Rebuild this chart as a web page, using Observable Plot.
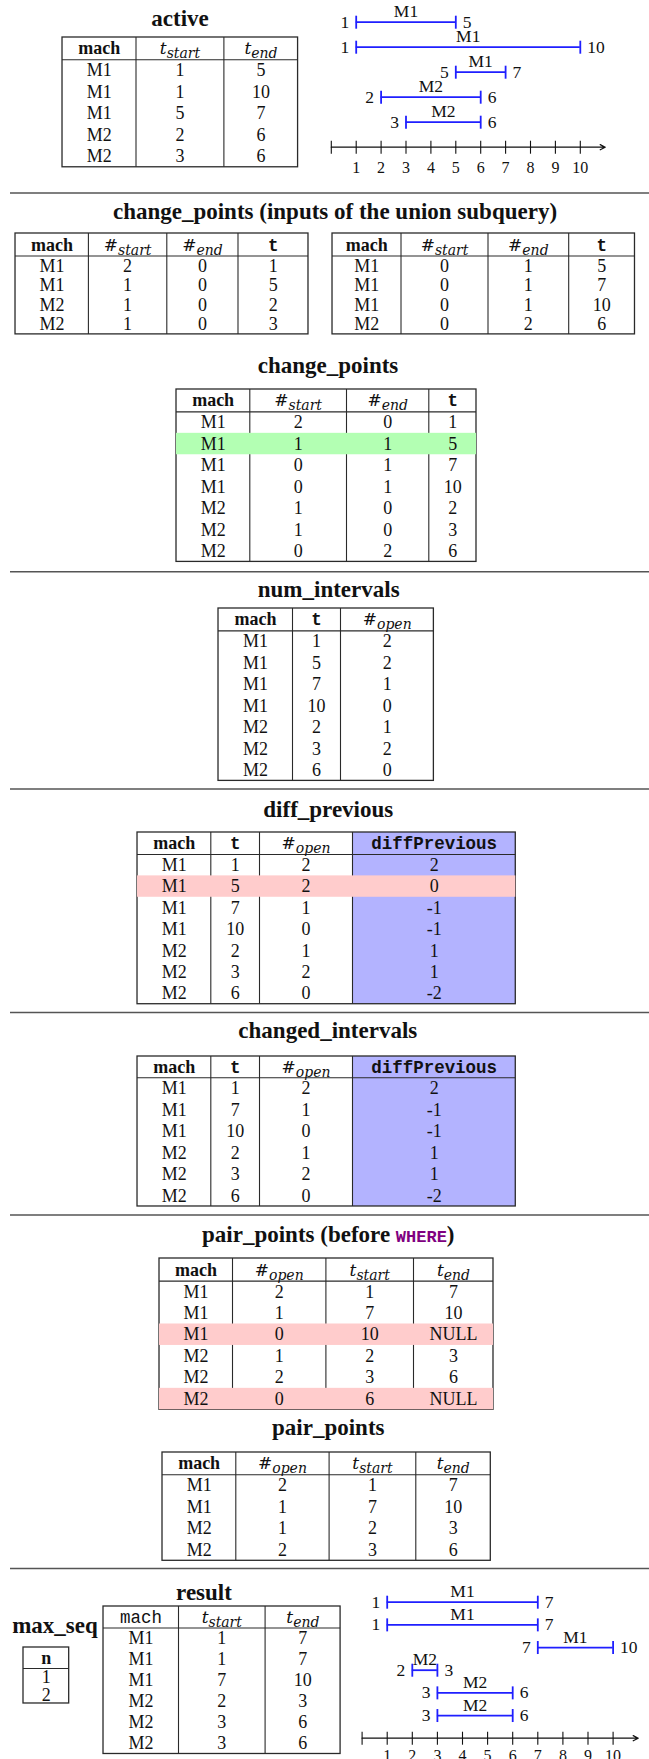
<!DOCTYPE html>
<html><head><meta charset="utf-8">
<script src="https://cdn.jsdelivr.net/npm/d3@7"></script>
<script src="https://cdn.jsdelivr.net/npm/@observablehq/plot@0.6"></script>
<style>
html,body{margin:0;padding:0;background:#fff;}
#page{position:relative;width:649px;height:1759px;overflow:hidden;background:#fff;}
.abs{position:absolute;}
</style></head><body><div id="page"></div>
<script>
// ---------------- DATA ----------------
const activeMach = ["M1","M1","M1","M2","M2"];
const activeStart = [1,1,5,2,3];
const activeEnd = [5,10,7,6,6];

const startPtsMach = ["M1","M1","M2","M2"];
const startPtsNStart = [2,1,1,1];
const startPtsNEnd = [0,0,0,0];
const startPtsT = [1,5,2,3];

const endPtsMach = ["M1","M1","M1","M2"];
const endPtsNStart = [0,0,0,0];
const endPtsNEnd = [1,1,1,2];
const endPtsT = [5,7,10,6];

const cpMach = ["M1","M1","M1","M1","M2","M2","M2"];
const cpNStart = [2,1,0,0,1,1,0];
const cpNEnd = [0,1,1,1,0,0,2];
const cpT = [1,5,7,10,2,3,6];

const niMach = ["M1","M1","M1","M1","M2","M2","M2"];
const niT = [1,5,7,10,2,3,6];
const niOpen = [2,2,1,0,1,2,0];

const dpMach = ["M1","M1","M1","M1","M2","M2","M2"];
const dpT = [1,5,7,10,2,3,6];
const dpOpen = [2,2,1,0,1,2,0];
const dpDiff = [2,0,-1,-1,1,1,-2];

const ciMach = ["M1","M1","M1","M2","M2","M2"];
const ciT = [1,7,10,2,3,6];
const ciOpen = [2,1,0,1,2,0];
const ciDiff = [2,-1,-1,1,1,-2];

const ppAllMach = ["M1","M1","M1","M2","M2","M2"];
const ppAllOpen = [2,1,0,1,2,0];
const ppAllStart = [1,7,10,2,3,6];
const ppAllEnd = [7,10,"NULL",3,6,"NULL"];

const ppMach = ["M1","M1","M2","M2"];
const ppOpen = [2,1,1,2];
const ppStart = [1,7,2,3];
const ppEnd = [7,10,3,6];

const maxSeqN = [1,2];

const resMach = ["M1","M1","M1","M2","M2","M2"];
const resStart = [1,1,7,2,3,3];
const resEnd = [7,7,10,3,6,6];

const axisTicks = [0,1,2,3,4,5,6,7,8,9,10];
const axisSpan = [{from: 0, to: 11}];

// ---------------- STYLE ----------------
const FONT = "'Liberation Serif','Times New Roman',serif";
const MONO = "'Liberation Mono','Courier New',monospace";
const MATH = "'DejaVu Serif',serif";
const BODY = 18, TITLE = 23, CHART = 17.5, TICK = 16;
const LINE = "#2a2a2a", LW = 1.1;
const GREEN = "#b3ffb3", RED = "#ffcccc", BLUE = "#b3b3ff", IVL = "#1f1fff", PURPLE = "#800080";

const page = document.getElementById("page");
const NS = "http://www.w3.org/2000/svg";

function place(node, left, top) {
  const div = document.createElement("div");
  div.className = "abs";
  div.style.left = left + "px";
  div.style.top = top + "px";
  div.appendChild(node);
  page.appendChild(div);
}

// header labels: "§kind|main|sub"
function styleHeaders(svg) {
  svg.querySelectorAll("text").forEach(el => {
    const s = el.textContent;
    if (!s.startsWith("§")) return;
    const [kind, main, sub] = s.slice(1).split("|");
    el.textContent = "";
    const add = (txt, attrs) => {
      const t = document.createElementNS(NS, "tspan");
      for (const k in attrs) t.setAttribute(k, attrs[k]);
      t.textContent = txt; el.appendChild(t); return t;
    };
    if (kind === "b") add(main, {"font-family": FONT, "font-weight": "bold"});
    else if (kind === "tt") add(main, {"font-family": MONO, "font-weight": "bold", "font-size": 17.5});
    else if (kind === "ttn") add(main, {"font-family": MONO, "font-size": 17.5});
    else if (kind === "m") {
      add(main, {"font-family": MATH, "font-style": main === "#" ? "normal" : "italic", "font-size": 17});
      add(sub, {"font-family": MATH, "font-style": "italic", "font-size": 14, "dy": 4});
    }
  });
}

function drawTable(t) {
  const m = 2;
  const cols = t.cols;
  const n = cols[0].length, c = cols.length;
  const x0 = t.bounds[0];
  const W = t.bounds[c] - x0;
  const H = t.headH + n * t.rowH;
  const xr = t.bounds.map(b => b - x0 + m);
  const yr = d3.range(n + 2).map(i => m + (i === 0 ? 0 : t.headH + (i - 1) * t.rowH));
  const cells = [];
  for (let r = 0; r < n; r++) for (let k = 0; k < c; k++) cells.push({r, k, v: String(cols[k][r])});
  const marks = [];
  if (t.colFill != null) marks.push(Plot.rect([t.colFill], {x1: d => d, x2: d => d + 1, y1: () => 0, y2: () => n + 1, fill: BLUE}));
  marks.push(Plot.ruleX(d3.range(1, c), {x: d => d, y1: () => 0, y2: () => n + 1, stroke: LINE, strokeWidth: LW}));
  marks.push(Plot.ruleY([1], {y: d => d, x1: () => 0, x2: () => c, stroke: LINE, strokeWidth: LW}));
  marks.push(Plot.rect([0], {x1: () => 0, x2: () => c, y1: () => 0, y2: () => n + 1, fill: "none", stroke: LINE, strokeWidth: LW + 0.2}));
  if (t.green) marks.push(Plot.rect(t.green, {x1: () => 0, x2: () => c, y1: d => d + 1, y2: d => d + 2, fill: GREEN}));
  if (t.red) marks.push(Plot.rect(t.red, {x1: () => 0, x2: () => c, y1: d => d + 1, y2: d => d + 2, fill: RED}));
  marks.push(Plot.text(cells, {x: d => d.k + 0.5, y: d => d.r + 1.5, text: "v", fontSize: BODY, fontFamily: FONT, fill: "#111"}));
  marks.push(Plot.text(t.headers, {x: (d, i) => i + 0.5, y: () => 0.5, text: d => d, fontSize: BODY, fontFamily: FONT, fill: "#111"}));
  const svg = Plot.plot({
    width: W + 2 * m, height: H + 2 * m, margin: 0,
    x: {type: "linear", domain: d3.range(c + 1), range: xr, axis: null},
    y: {type: "linear", domain: d3.range(n + 2), range: yr, axis: null},
    style: {background: "transparent", overflow: "visible"},
    marks
  });
  styleHeaders(svg);
  place(svg, x0 - m, t.top - m);
}

const vbar = {draw(ctx, size) { const r = Math.sqrt(size / Math.PI); ctx.moveTo(0, -r); ctx.lineTo(0, r); }};

function drawIntervals(c) {
  const data = c.mach.map((mm, i) => ({mach: mm, start: c.start[i], end: c.end[i], row: i + 1}));
  const axisRow = data.length + 1;
  const svg = Plot.plot({
    width: c.width, height: c.height,
    marginLeft: c.ml, marginRight: c.mr, marginTop: c.mt, marginBottom: c.mb,
    x: {domain: [0, 11], ticks: axisTicks, tickSize: 0, tickPadding: c.pad, tickFormat: d => d === 0 ? "" : String(d), label: null},
    y: {domain: [1, axisRow], reverse: true, axis: null},
    style: {background: "transparent", overflow: "visible", fontFamily: FONT, fontSize: TICK + "px", color: "#111"},
    marks: [
      Plot.arrow(axisSpan, {x1: "from", x2: "to", y1: () => axisRow, y2: () => axisRow, stroke: "#111", strokeWidth: 1.2, headLength: 7, headAngle: 55}),
      Plot.dot(axisTicks, {x: d => d, y: () => axisRow, symbol: vbar, r: 6.5, fill: "none", stroke: "#111", strokeWidth: 1.1}),
      Plot.ruleY(data, {y: "row", x1: "start", x2: "end", stroke: IVL, strokeWidth: 1.8}),
      Plot.dot(data, {x: "start", y: "row", symbol: vbar, r: 6.5, fill: "none", stroke: IVL, strokeWidth: 1.8}),
      Plot.dot(data, {x: "end", y: "row", symbol: vbar, r: 6.5, fill: "none", stroke: IVL, strokeWidth: 1.8}),
      Plot.text(data, {x: "start", y: "row", text: d => String(d.start), textAnchor: "end", dx: -7, fontSize: CHART, fontFamily: FONT, fill: "#111"}),
      Plot.text(data, {x: "end", y: "row", text: d => String(d.end), textAnchor: "start", dx: 7, fontSize: CHART, fontFamily: FONT, fill: "#111"}),
      Plot.text(data, {x: d => (d.start + d.end) / 2, y: "row", text: "mach", dy: -10.5, fontSize: CHART, fontFamily: FONT, fill: "#111"})
    ]
  });
  place(svg, c.left, c.top);
}

// ---------------- TITLES & SEPARATORS ----------------
const deco = d3.create("svg").attr("width", 649).attr("height", 1759).style("position", "absolute").style("left", 0).style("top", 0);
const separators = [193, 571.7, 789, 1012.5, 1215, 1568.5];
deco.selectAll("line").data(separators).join("line")
  .attr("x1", 10).attr("x2", 649).attr("y1", d => d).attr("y2", d => d)
  .attr("stroke", "#555").attr("stroke-width", 1.6);
const titles = [
  {t: "active", x: 180, y: 26},
  {t: "change_points (inputs of the union subquery)", x: 335, y: 219},
  {t: "change_points", x: 328, y: 373.3},
  {t: "num_intervals", x: 328.7, y: 597.3},
  {t: "diff_previous", x: 328.3, y: 816.7},
  {t: "changed_intervals", x: 327.8, y: 1038.3},
  {t: "pair_points (before ", x: 328.3, y: 1241.7, where: true},
  {t: "pair_points", x: 328.3, y: 1435},
  {t: "result", x: 204, y: 1600},
  {t: "max_seq", x: 55, y: 1633}
];
titles.forEach(d => {
  const tx = deco.append("text").attr("x", d.x).attr("y", d.y).attr("text-anchor", "middle")
    .attr("font-family", FONT).attr("font-weight", "bold").attr("font-size", TITLE).attr("fill", "#111");
  tx.append("tspan").text(d.t);
  if (d.where) {
    tx.append("tspan").attr("font-family", MONO).attr("font-size", 17).attr("font-weight", "bold").attr("fill", PURPLE).text("WHERE");
    tx.append("tspan").text(")");
  }
});
page.appendChild(deco.node());

// ---------------- TABLES ----------------
drawTable({top: 37, bounds: [62, 135.5, 223.4, 297.6], headH: 22.3, rowH: 21.5,
  headers: ["§b|mach", "§m|t|start", "§m|t|end"], cols: [activeMach, activeStart, activeEnd]});
drawTable({top: 233, bounds: [14.5, 87.4, 165.8, 237, 307.5], headH: 22.5, rowH: 19.6,
  headers: ["§b|mach", "§m|#|start", "§m|#|end", "§tt|t"], cols: [startPtsMach, startPtsNStart, startPtsNEnd, startPtsT]});
drawTable({top: 233, bounds: [331.5, 400, 487, 567.7, 634], headH: 22.5, rowH: 19.6,
  headers: ["§b|mach", "§m|#|start", "§m|#|end", "§tt|t"], cols: [endPtsMach, endPtsNStart, endPtsNEnd, endPtsT]});
drawTable({top: 389.3, bounds: [176, 249.3, 346, 428.3, 476], headH: 22.4, rowH: 21.43,
  headers: ["§b|mach", "§m|#|start", "§m|#|end", "§tt|t"], cols: [cpMach, cpNStart, cpNEnd, cpT], green: [1]});
drawTable({top: 608.3, bounds: [218.3, 292.3, 340.3, 433.7], headH: 22.4, rowH: 21.43,
  headers: ["§b|mach", "§tt|t", "§m|#|open"], cols: [niMach, niT, niOpen]});
drawTable({top: 832.3, bounds: [136.7, 210, 258.7, 351.7, 515], headH: 22, rowH: 21.39,
  headers: ["§b|mach", "§tt|t", "§m|#|open", "§tt|diffPrevious"], cols: [dpMach, dpT, dpOpen, dpDiff], colFill: 3, red: [1]});
drawTable({top: 1056, bounds: [136.7, 210, 258.7, 351.7, 515], headH: 21.3, rowH: 21.45,
  headers: ["§b|mach", "§tt|t", "§m|#|open", "§tt|diffPrevious"], cols: [ciMach, ciT, ciOpen, ciDiff], colFill: 3});
drawTable({top: 1257.7, bounds: [159.3, 232.3, 325.7, 413.3, 493.3], headH: 22.6, rowH: 21.45,
  headers: ["§b|mach", "§m|#|open", "§m|t|start", "§m|t|end"], cols: [ppAllMach, ppAllOpen, ppAllStart, ppAllEnd], red: [2, 5]});
drawTable({top: 1451.7, bounds: [161.7, 235, 328.3, 415, 490], headH: 22.3, rowH: 21.5,
  headers: ["§b|mach", "§m|#|open", "§m|t|start", "§m|t|end"], cols: [ppMach, ppOpen, ppStart, ppEnd]});
drawTable({top: 1647, bounds: [23.3, 69], headH: 21, rowH: 17.5,
  headers: ["§b|n"], cols: [maxSeqN]});
drawTable({top: 1606, bounds: [102.7, 177.7, 264.3, 339.8], headH: 21.5, rowH: 21,
  headers: ["§ttn|mach", "§m|t|start", "§m|t|end"], cols: [resMach, resStart, resEnd]});

// ---------------- INTERVAL CHARTS ----------------
drawIntervals({mach: activeMach, start: activeStart, end: activeEnd,
  left: 300, top: 0, width: 349, height: 185, ml: 30.8, mr: 44.3, mt: 21.7, mb: 38.3, pad: 14});
drawIntervals({mach: resMach, start: resStart, end: resEnd,
  left: 340, top: 1570, width: 309, height: 189, ml: 21.6, mr: 11.3, mt: 31.7, mb: 21.3, pad: 11.4});
</script></body></html>
